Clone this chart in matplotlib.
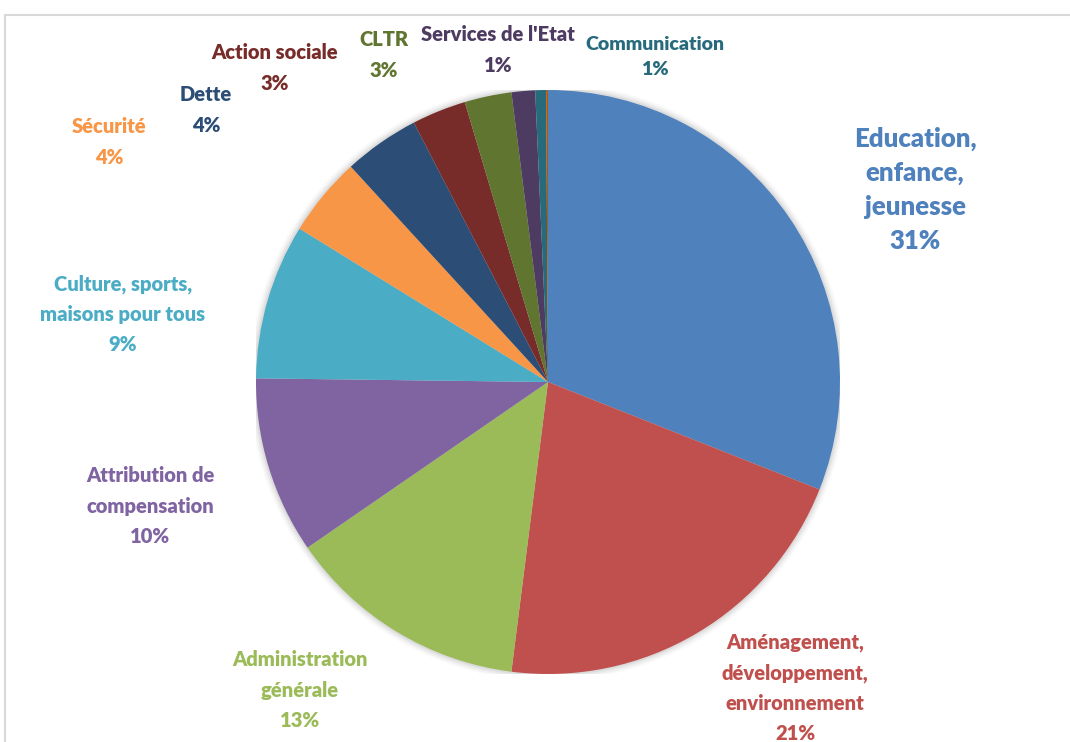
import matplotlib
matplotlib.use("Agg")
import matplotlib.pyplot as plt
from matplotlib.lines import Line2D

plt.rcParams['font.family'] = ['Lato', 'DejaVu Sans']

categories = ["Education,\nenfance,\njeunesse", "Aménagement,\ndéveloppement,\nenvironnement",
              "Administration\ngénérale", "Attribution de\ncompensation",
              "Culture, sports,\nmaisons pour tous", "Sécurité", "Dette", "Action sociale",
              "CLTR", "Services de l'Etat", "Communication", ""]
shares = [31.0, 21.0, 13.4, 9.8, 8.6, 4.4, 4.2, 3.0, 2.6, 1.3, 0.6, 0.1]
colors = ["#4F81BD", "#C0504D", "#9BBB59", "#8064A2", "#4BACC6", "#F79646",
          "#2C4D75", "#772C2A", "#5F7530", "#4D3B62", "#276A7C", "#B65708"]

# label centres in pixels (x, y from top) and font sizes
label_px = [(915, 190), (795, 688), (300, 690), (150, 506), (123, 314), (109, 142),
            (206, 110), (275, 68), (384, 55), (498, 50), (655, 57), None]
label_fs = [18.5, 14.5, 14.5, 14.5, 14.5, 14.5, 14.5, 14.5, 14.5, 14.5, 14, 14]
label_ls = [1.5, 1.7, 1.7, 1.7, 1.7, 1.7, 1.7, 1.7, 1.7, 1.7, 1.6, 1.7]

W, H = 1070, 742
cx, cy, r = 548, 382, 292

fig = plt.figure(figsize=(W / 100, H / 100), dpi=100)
ax = fig.add_axes([(cx - r) / W, (H - cy - r) / H, 2 * r / W, 2 * r / H])

# soft shadow
for k, a in enumerate([0.05, 0.04, 0.03, 0.02]):
    ax.add_patch(plt.Circle((0, 0), 1 + 0.006 * (k + 1), color="#000000", alpha=a, lw=0))

ax.pie(shares, colors=colors, startangle=90, counterclock=False, radius=1,
       wedgeprops=dict(linewidth=0))
ax.set_xlim(-1, 1)
ax.set_ylim(-1, 1)
ax.set_aspect("equal")
ax.axis("off")

for name, val, col, pos, fs, ls in zip(categories, shares, colors, label_px, label_fs, label_ls):
    if pos is None:
        continue
    x = (pos[0] - cx) / r
    y = (cy - pos[1]) / r
    txt = f"{name}\n{round(val):.0f}%"
    ax.text(x, y, txt, color=col, fontsize=fs, fontweight="heavy", ha="center",
            va="center", linespacing=ls, clip_on=False)

# chart frame (cropped)
fig.add_artist(Line2D([5 / W, 1], [1 - 15 / H, 1 - 15 / H], color="#D9D9D9", lw=1.5))
fig.add_artist(Line2D([5 / W, 5 / W], [0, 1 - 15 / H], color="#D9D9D9", lw=1.5))

fig.savefig("out.png", dpi=100, facecolor="white")
